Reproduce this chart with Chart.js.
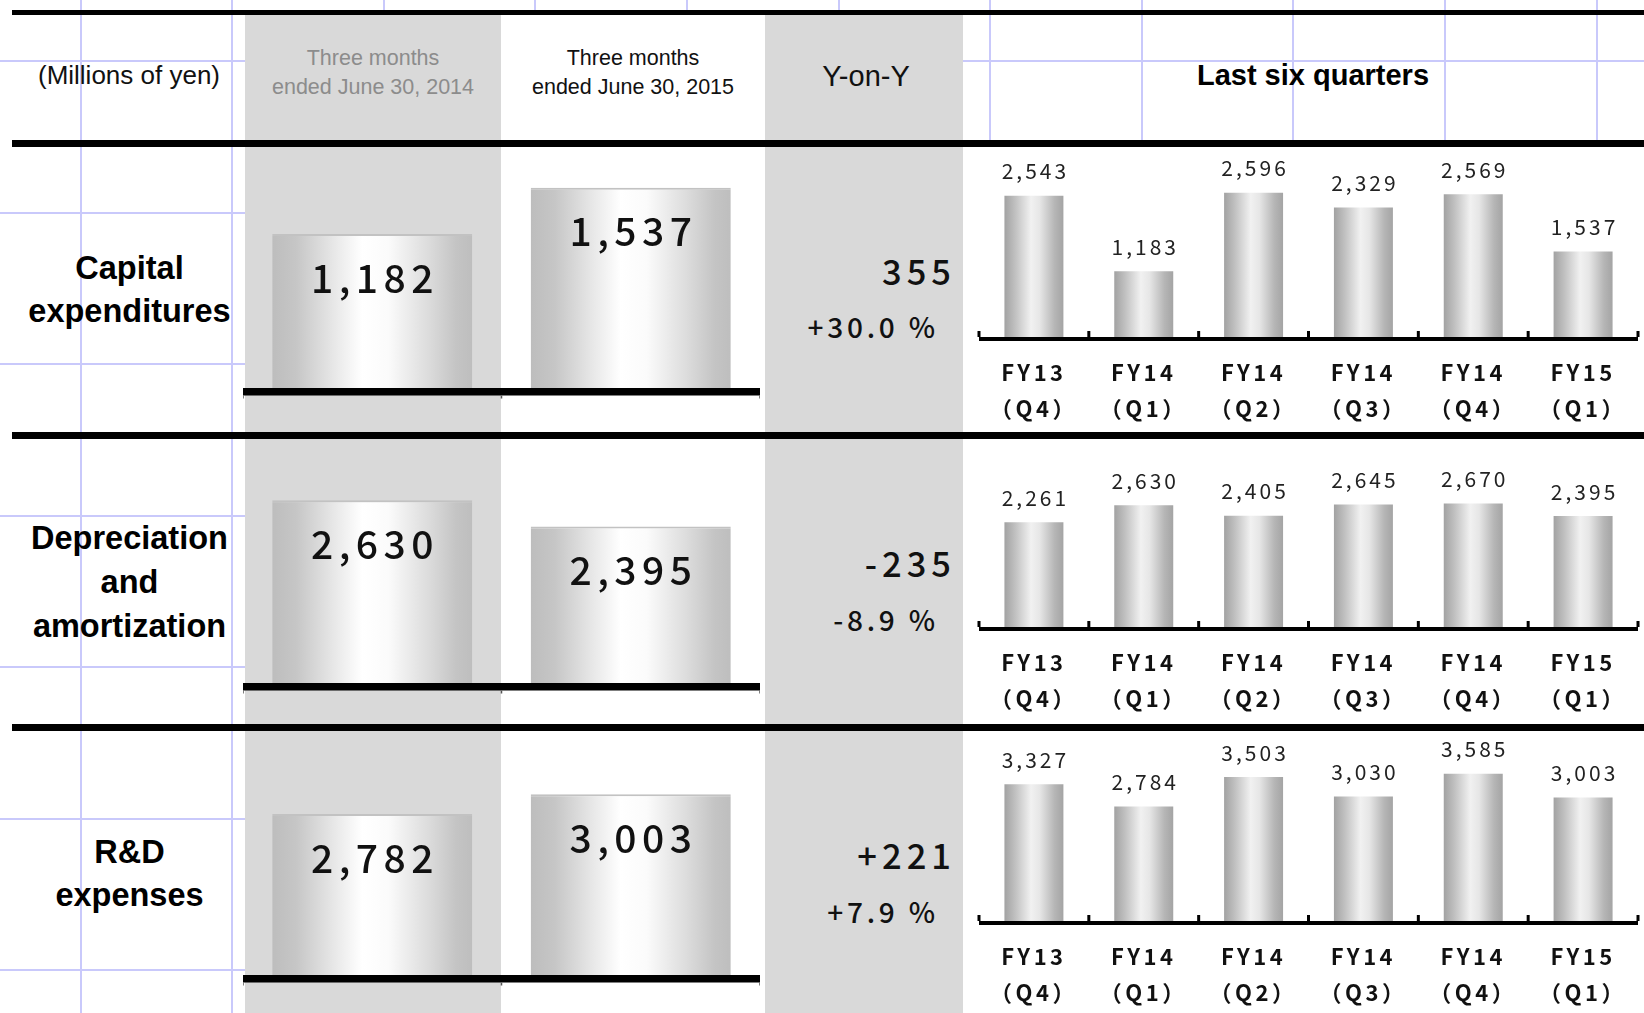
<!DOCTYPE html>
<html lang="en">
<head>
<meta charset="utf-8">
<title>Capital expenditures, depreciation and amortization, R&amp;D expenses</title>
<script src="https://cdn.jsdelivr.net/npm/chart.js@4.4.1/dist/chart.umd.min.js"></script>
<style>
  html, body { margin: 0; padding: 0; background: #fff; }
  #sheet { position: relative; width: 1644px; height: 1013px; overflow: hidden; background: #fff; }
  .cell { position: absolute; }
  .txt { position: absolute; white-space: nowrap; line-height: 1; }
  canvas { position: absolute; }
</style>
</head>
<body>
<div id="sheet"></div>
<script>
// ---------------- data ----------------
const rowTitles = [['Capital', 'expenditures'], ['Depreciation', 'and', 'amortization'], ['R&D', 'expenses']];
const prevPeriodHeader = ['Three months', 'ended June 30, 2014'];
const currPeriodHeader = ['Three months', 'ended June 30, 2015'];
const comparePeriods = ['Three months ended June 30, 2014', 'Three months ended June 30, 2015'];
const prevQuarterValues = [1182, 2630, 2782];
const currQuarterValues = [1537, 2395, 3003];
const yoyChangeLabels = ['355', '-235', '+221'];
const yoyRateLabels = ['+30.0 %', '-8.9 %', '+7.9 %'];
const quarterLabels = [['FY13', '（Q4）'], ['FY14', '（Q1）'], ['FY14', '（Q2）'], ['FY14', '（Q3）'], ['FY14', '（Q4）'], ['FY15', '（Q1）']];
const capexByQuarter = [2543, 1183, 2596, 2329, 2569, 1537];
const depreciationByQuarter = [2261, 2630, 2405, 2645, 2670, 2395];
const rndByQuarter = [3327, 2784, 3503, 3030, 3585, 3003];
const quarterSeries = [capexByQuarter, depreciationByQuarter, rndByQuarter];
const compareAxisMin = [0, 1000, 1000];
const compareAxisMax = [1850, 3166, 3691];
const quarterAxisMax = [3420, 4039, 4599];

// ---------------- layout ----------------
const W = 1644, H = 1013;
const SANS = '"Liberation Sans", Arial, sans-serif';
const GOTHIC = '"Noto Sans CJK JP", "Noto Sans", sans-serif';
const ASC_SANS = 0.8465;   // baseline offset for line-height:1
const ASC_GOTHIC = 0.936;

const ROW_TOP = [147, 440, 732];
const COMPARE_BOTTOM = [388, 683, 975];
const QUARTER_BOTTOM = [337, 627, 921];
const TITLE_BASELINES = [[280, 322.7], [549.3, 593.3, 637.3], [863.7, 906.3]];
const YOY_BASELINES = [[285, 338], [577.7, 631], [869.7, 923]];

const sheet = document.getElementById('sheet');

function box(left, top, width, height, color) {
  const d = document.createElement('div');
  d.className = 'cell';
  Object.assign(d.style, { left: left + 'px', top: top + 'px', width: width + 'px', height: height + 'px', background: color });
  sheet.appendChild(d);
}

function putText(str, o) {
  const el = document.createElement('div');
  el.className = 'txt';
  el.textContent = str;
  const sp = o.spacing || 0;
  Object.assign(el.style, {
    fontFamily: o.family, fontSize: o.size + 'px', fontWeight: o.weight || 400,
    color: o.color || '#000', letterSpacing: sp + 'px',
    top: (o.baseline - o.asc * o.size) + 'px'
  });
  if (o.align === 'right') {
    el.style.right = (W - o.x - sp) + 'px';
  } else {
    el.style.left = (o.x - 300) + 'px';
    el.style.width = '600px';
    el.style.textAlign = 'center';
    el.style.paddingLeft = sp + 'px';
  }
  sheet.appendChild(el);
}

// spreadsheet gridlines
const GRID = '#c9c9fb';
for (let k = 0; k < 11; k++) box(79.5 + 151.6 * k, 0, 2, H, GRID);
for (let k = 0; k < 7; k++) box(0, 60 + 151.5 * k, W, 2, GRID);

// filled columns
box(245, 15, 256, H - 15, '#d9d9d9');   // previous period
box(501, 15, 264, H - 15, '#ffffff');   // current period
box(765, 15, 198, H - 15, '#d9d9d9');   // Y-on-Y
box(963, 146, W - 963, H - 146, '#ffffff'); // quarterly charts

// header
putText('(Millions of yen)', { x: 129, baseline: 84, size: 26, family: SANS, asc: ASC_SANS, color: '#111' });
prevPeriodHeader.forEach((t, i) => putText(t, { x: 373, baseline: 66 + 29 * i, size: 21.5, family: SANS, asc: ASC_SANS, color: '#8c8c8c' }));
currPeriodHeader.forEach((t, i) => putText(t, { x: 633, baseline: 66 + 29 * i, size: 21.5, family: SANS, asc: ASC_SANS, color: '#111' }));
putText('Y-on-Y', { x: 866, baseline: 87, size: 29, family: SANS, asc: ASC_SANS, color: '#111' });
putText('Last six quarters', { x: 1313, baseline: 86, size: 29, weight: 700, family: SANS, asc: ASC_SANS, color: '#000' });

// row titles and year-on-year figures
rowTitles.forEach((lines, r) => {
  lines.forEach((t, i) => putText(t, { x: 129.5, baseline: TITLE_BASELINES[r][i], size: 32.5, weight: 700, family: SANS, asc: ASC_SANS, color: '#000' }));
  putText(yoyChangeLabels[r], { x: 951, baseline: YOY_BASELINES[r][0], size: 34.5, weight: 500, family: GOTHIC, asc: ASC_GOTHIC, color: '#111', spacing: 5, align: 'right' });
  putText(yoyRateLabels[r], { x: 935, baseline: YOY_BASELINES[r][1], size: 28, weight: 500, family: GOTHIC, asc: ASC_GOTHIC, color: '#111', spacing: 3.8, align: 'right' });
});

// ---------------- chart helpers ----------------
Chart.defaults.animation = false;
Chart.defaults.font.family = GOTHIC;

function makeCanvas(left, top, width, height) {
  const c = document.createElement('canvas');
  c.width = width; c.height = height;
  Object.assign(c.style, { left: left + 'px', top: top + 'px', width: width + 'px', height: height + 'px' });
  sheet.appendChild(c);
  return c;
}

// horizontal shading across each bar, like a polished cylinder
function cylinderFill(stops) {
  return (context) => {
    const chart = context.chart;
    const xs = chart.scales.x;
    if (!xs || context.type !== 'data' || !chart.chartArea) return stops[0][1];
    const ds = chart.data.datasets[context.datasetIndex];
    const w = xs.width / chart.data.labels.length * ds.barPercentage;
    const cx = xs.getPixelForValue(context.dataIndex);
    const g = chart.ctx.createLinearGradient(cx - w / 2, 0, cx + w / 2, 0);
    stops.forEach(([o, c]) => g.addColorStop(o, c));
    return g;
  };
}

// value text placed relative to each bar's top
const valueLabels = {
  id: 'valueLabels',
  afterDatasetsDraw(chart, args, opts) {
    const ctx = chart.ctx;
    const meta = chart.getDatasetMeta(0);
    const data = chart.data.datasets[0].data;
    ctx.save();
    ctx.font = opts.font;
    ctx.fillStyle = opts.color;
    ctx.textAlign = 'center';
    ctx.textBaseline = 'alphabetic';
    if ('letterSpacing' in ctx) ctx.letterSpacing = opts.spacing + 'px';
    meta.data.forEach((bar, i) => {
      ctx.fillText(data[i].toLocaleString('en-US'), bar.x + opts.spacing / 2, bar.y + opts.dy);
    });
    ctx.restore();
  }
};

// heavy base rule under the bars, with small category dividers
const baseRule = {
  id: 'baseRule',
  beforeDraw(chart, args, opts) {
    if ('letterSpacing' in chart.ctx) chart.ctx.letterSpacing = (opts.labelSpacing || 0) + 'px';
  },
  afterDatasetsDraw(chart, args, opts) {
    const ctx = chart.ctx;
    const a = chart.chartArea;
    const xs = chart.scales.x;
    const n = chart.data.labels.length;
    const step = xs.width / n;
    ctx.save();
    ctx.fillStyle = '#000';
    ctx.fillRect(a.left, a.bottom, a.right - a.left, opts.thickness);
    for (let i = 0; i <= n; i++) {
      const x = i === n ? xs.getPixelForValue(n - 1) + step / 2 : xs.getPixelForValue(i) - step / 2;
      if (opts.tickUp) ctx.fillRect(x - 1.5, a.bottom - opts.tickUp, 3, opts.tickUp);
      if (opts.tickDown) { ctx.fillStyle = '#555'; ctx.fillRect(x - 0.75, a.bottom + opts.thickness, 1.5, opts.tickDown); ctx.fillStyle = '#000'; }
    }
    ctx.restore();
  },
  afterDraw(chart) {
    if ('letterSpacing' in chart.ctx) chart.ctx.letterSpacing = '0px';
  }
};

// ---------------- two-period comparison charts ----------------
const BIG_STOPS = [[0, '#bdbdbd'], [0.12, '#c6c6c6'], [0.3, '#e6e6e6'], [0.45, '#ffffff'], [0.58, '#fbfbfb'], [0.78, '#dcdcdc'], [0.92, '#c4c4c4'], [1, '#bebebe']];
const SMALL_STOPS = [[0, '#a2a2a2'], [0.18, '#c0c0c0'], [0.45, '#f1f1f1'], [0.6, '#e6e6e6'], [0.85, '#b6b6b6'], [1, '#a4a4a4']];

for (let r = 0; r < 3; r++) {
  const top = ROW_TOP[r];
  const areaH = COMPARE_BOTTOM[r] - top;
  const canvas = makeCanvas(243, top, 517, areaH + 12);
  new Chart(canvas, {
    type: 'bar',
    data: {
      labels: comparePeriods,
      datasets: [{
        data: [prevQuarterValues[r], currQuarterValues[r]],
        barPercentage: 0.774,
        categoryPercentage: 1,
        backgroundColor: cylinderFill(BIG_STOPS),
        borderColor: '#c2c2c2',
        borderWidth: { top: 2, left: 0, right: 0, bottom: 0 },
        borderSkipped: 'start'
      }]
    },
    options: {
      responsive: false,
      animation: false,
      layout: { padding: { left: 0, right: 0, top: 0, bottom: 12 } },
      plugins: {
        legend: { display: false },
        tooltip: { enabled: false },
        valueLabels: { font: '500 39px ' + GOTHIC, color: '#111', spacing: 5.5, dy: 58.5 },
        baseRule: { thickness: 7.5, tickDown: 3 }
      },
      scales: {
        x: { display: false },
        y: { display: false, min: compareAxisMin[r], max: compareAxisMax[r] }
      }
    },
    plugins: [valueLabels, baseRule]
  });
}

// ---------------- last six quarters charts ----------------
for (let r = 0; r < 3; r++) {
  const top = ROW_TOP[r];
  const areaH = QUARTER_BOTTOM[r] - top;
  const axisH = r === 2 ? H - QUARTER_BOTTOM[r] : 94;
  const canvas = makeCanvas(976, top, 665, areaH + axisH);
  new Chart(canvas, {
    type: 'bar',
    data: {
      labels: quarterLabels,
      datasets: [{
        data: quarterSeries[r],
        barPercentage: 0.537,
        categoryPercentage: 1,
        backgroundColor: cylinderFill(SMALL_STOPS),
        borderWidth: 0
      }]
    },
    options: {
      responsive: false,
      animation: false,
      layout: { padding: { left: 3, right: 3, top: 0, bottom: 0 } },
      plugins: {
        legend: { display: false },
        tooltip: { enabled: false },
        valueLabels: { font: '400 21px ' + GOTHIC, color: '#222', spacing: 3, dy: -16.5 },
        baseRule: { thickness: 4, tickUp: 6, labelSpacing: 3.5 }
      },
      scales: {
        x: {
          display: true,
          grid: { display: false },
          border: { display: false },
          ticks: {
            color: '#111',
            padding: 10.5,
            maxRotation: 0,
            autoSkip: false,
            font: { family: GOTHIC, size: 22, weight: 'bold', lineHeight: 1.6 }
          },
          afterFit: (scale) => { scale.height = axisH; }
        },
        y: { display: false, min: 0, max: quarterAxisMax[r] }
      }
    },
    plugins: [valueLabels, baseRule]
  });
}

// table rules drawn over everything
box(12, 10, W - 12, 5, '#000');
box(12, 140, W - 12, 6.5, '#000');
box(12, 432, W - 12, 7, '#000');
box(12, 724, W - 12, 7, '#000');
</script>
</body>
</html>
